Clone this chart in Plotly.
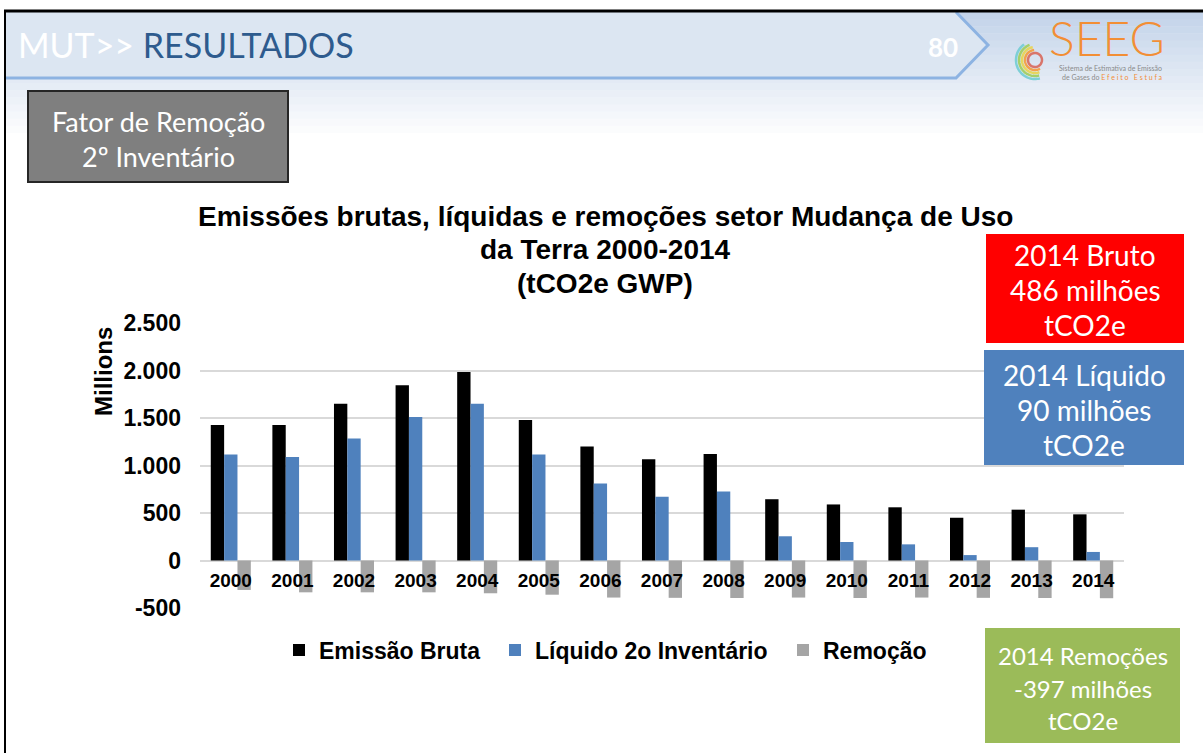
import numpy as np
import plotly.graph_objects as go

# ---------------- data ----------------
years = ['2000', '2001', '2002', '2003', '2004', '2005', '2006', '2007',
         '2008', '2009', '2010', '2011', '2012', '2013', '2014']
emissao_bruta = [1425, 1425, 1650, 1845, 1985, 1480, 1200, 1065, 1120, 645, 590, 560, 450, 535, 486]
liquido_2o_inventario = [1115, 1090, 1285, 1510, 1650, 1115, 810, 670, 725, 255, 195, 170, 57, 140, 90]
remocao = [-310, -335, -335, -335, -345, -360, -390, -393, -395, -390, -395, -390, -393, -395, -397]
series_names = ['Emissão Bruta', 'Líquido 2o Inventário', 'Remoção']
y_tick_values = [-500, 0, 500, 1000, 1500, 2000, 2500]
y_tick_labels = ['-500', '0', '500', '1.000', '1.500', '2.000', '2.500']
y_range = [-500, 2500]

# ---------------- geometry helpers ----------------
W, H = 1203, 753


def px(x):
    return x / W


def py(y):
    return 1 - y / H


XDOM = [px(200), px(1124)]
YDOM = [py(608), py(323)]
zero_pos = YDOM[0] + (0 - y_range[0]) / (y_range[1] - y_range[0]) * (YDOM[1] - YDOM[0])

ARIAL = 'Liberation Sans, Arial, sans-serif'
CAL = 'Lato, Open Sans, sans-serif'

fig = go.Figure()
colors = ['#000000', '#4f81bd', '#a5a5a5']
legend_ids = ['legend', 'legend2', 'legend3']
for name, vals, c, lg in zip(series_names, [emissao_bruta, liquido_2o_inventario, remocao], colors, legend_ids):
    fig.add_trace(go.Bar(x=years, y=vals, name=name, legend=lg,
                         marker=dict(color=c, line=dict(width=0))))

shapes = []
annotations = []

# background gradient (top of slide)
top_c = np.array([196, 212, 234])
steps = 18
y0, y1 = 12, 140
for i in range(steps):
    t = i / (steps - 1)
    c = top_c + (np.array([255, 255, 255]) - top_c) * t
    ya = y0 + (y1 - y0) * i / steps
    yb = y0 + (y1 - y0) * (i + 1) / steps + 0.5
    shapes.append(dict(type='rect', xref='paper', yref='paper', x0=px(5), x1=1, y0=py(yb), y1=py(ya),
                       fillcolor='rgb(%d,%d,%d)' % tuple(c.astype(int)), line=dict(width=0), layer='below'))

# header band with chevron
hdr = 'M {},{} L {},{} L {},{} L {},{} L {},{} Z'.format(
    px(5), py(12), px(956), py(12), px(988), py(45), px(956), py(78), px(5), py(78))
shapes.append(dict(type='path', xref='paper', yref='paper', path=hdr, fillcolor='#dce6f2',
                   line=dict(width=0), layer='below'))
outline = 'M {},{} L {},{} L {},{} L {},{}'.format(
    px(956), py(12), px(988), py(45), px(956), py(78), px(5), py(78))
shapes.append(dict(type='path', xref='paper', yref='paper', path=outline,
                   line=dict(color='#8db3e2', width=3), layer='below'))

# slide frame
shapes.append(dict(type='line', xref='paper', yref='paper', x0=px(4), x1=1, y0=py(11), y1=py(11),
                    line=dict(color='black', width=3), layer='below'))
shapes.append(dict(type='line', xref='paper', yref='paper', x0=px(5), x1=px(5), y0=py(10), y1=0,
                    line=dict(color='black', width=2), layer='below'))

# SEEG logo arcs
cx, cy = 1035, 60
arcs = [(7, '#d9756b', 0, 360), (10, '#f3a24c', 95, 300), (13, '#e6d65e', 100, 290),
        (16, '#a6cf6a', 110, 285), (19, '#7dcfd6', 125, 285)]
for r, col, a0, a1 in arcs:
    ang = np.radians(np.linspace(a0, a1, 40))
    xs = cx + r * np.cos(ang)
    ys = cy - r * np.sin(ang)
    p = 'M ' + ' L '.join('{},{}'.format(px(a), py(b)) for a, b in zip(xs, ys))
    shapes.append(dict(type='path', xref='paper', yref='paper', path=p,
                       line=dict(color=col, width=2.5), layer='below'))

# gray box
shapes.append(dict(type='rect', xref='paper', yref='paper', x0=px(28), x1=px(288), y0=py(182), y1=py(91),
                   fillcolor='#7f7f7f', line=dict(color='#262626', width=2), layer='above'))
# right info boxes
boxes = [
    (986, 1184, 234, 343, '#ff0000', ['2014 Bruto', '486 milhões', 'tCO2e'], [255, 290, 325], 28),
    (984, 1184, 350, 465, '#4f81bd', ['2014 Líquido', '90 milhões', 'tCO2e'], [375, 410, 445], 28),
    (985, 1180, 628, 743, '#9bbb59', ['2014 Remoções', '-397 milhões', 'tCO2e'], [655, 688, 720], 24),
]
for x0, x1, ya, yb, col, lines, ys, fs in boxes:
    shapes.append(dict(type='rect', xref='paper', yref='paper', x0=px(x0), x1=px(x1), y0=py(yb), y1=py(ya),
                       fillcolor=col, line=dict(width=0), layer='above'))
    for t, yy in zip(lines, ys):
        annotations.append(dict(text=t, x=px((x0 + x1) / 2), y=py(yy), xref='paper', yref='paper',
                                showarrow=False, xanchor='center', yanchor='middle',
                                font=dict(family=CAL, size=fs, color='white')))

# gray box text
for t, yy in zip(['Fator de Remoção', '2º Inventário'], [122, 156]):
    annotations.append(dict(text=t, x=px(158), y=py(yy), xref='paper', yref='paper', showarrow=False,
                            xanchor='center', yanchor='middle', font=dict(family=CAL, size=27, color='white')))

# header title
annotations.append(dict(text='<span style="color:white">MUT&gt;&gt; </span>RESULTADOS', x=px(16), y=py(45),
                        xref='paper', yref='paper', showarrow=False, xanchor='left', yanchor='middle',
                        font=dict(family=CAL, size=34, color='#2e5b8e')))
annotations.append(dict(text='<b>80</b>', x=px(943), y=py(47), xref='paper', yref='paper', showarrow=False,
                        xanchor='center', yanchor='middle', font=dict(family=CAL, size=26, color='white')))
# logo text
annotations.append(dict(text='SEEG', x=px(1107), y=py(38), xref='paper', yref='paper', showarrow=False,
                        xanchor='center', yanchor='middle',
                        font=dict(family=CAL, size=48, color='#f28e35', weight=300)))
annotations.append(dict(text='Sistema de Estimativa de Emissão<br>de Gases do '
                             '<span style="color:#f28e35">E f e i t o   E s t u f a</span>',
                        x=px(1165), y=py(72), xref='paper', yref='paper', align='right',
                        showarrow=False, xanchor='right', yanchor='middle',
                        font=dict(family=CAL, size=7, color='#8a8a8a')))

# chart title
for t, yy in zip(['Emissões brutas, líquidas e remoções setor Mudança de Uso',
                  'da Terra 2000-2014', '(tCO2e GWP)'], [217, 250, 283]):
    annotations.append(dict(text=t, x=px(605), y=py(yy), xref='paper', yref='paper', showarrow=False,
                            xanchor='center', yanchor='middle',
                            font=dict(family=ARIAL, size=28, color='black', weight='bold')))
# y axis title
annotations.append(dict(text='Millions', x=px(103), y=py(372), xref='paper', yref='paper', showarrow=False,
                        textangle=-90, xanchor='center', yanchor='middle',
                        font=dict(family=ARIAL, size=24, color='black', weight='bold')))

legend_style = dict(orientation='h', xanchor='left', yanchor='middle', y=py(650),
                    font=dict(family=ARIAL, size=23, color='black', weight='bold'),
                    bgcolor='rgba(0,0,0,0)', itemclick=False)

fig.update_layout(
    width=W, height=H, autosize=False,
    margin=dict(l=0, r=0, t=0, b=0, pad=0, autoexpand=False),
    paper_bgcolor='white', plot_bgcolor='rgba(0,0,0,0)',
    barmode='group', bargap=0.35, bargroupgap=0,
    showlegend=True,
    legend=dict(x=px(279), **legend_style),
    legend2=dict(x=px(495), **legend_style),
    legend3=dict(x=px(783), **legend_style),
    shapes=shapes, annotations=annotations,
    xaxis=dict(domain=XDOM, type='category', anchor='free', position=zero_pos, automargin=False,
               showgrid=False, showline=False, ticks='', zeroline=False,
               tickfont=dict(family=ARIAL, size=19, color='black', weight='bold'),
               ticklabelstandoff=6),
    yaxis=dict(domain=YDOM, range=y_range, tickvals=y_tick_values, ticktext=y_tick_labels, automargin=False,
               showgrid=True, gridcolor='#d9d9d9', gridwidth=2,
               zeroline=True, zerolinecolor='#d9d9d9', zerolinewidth=2,
               showline=False, ticks='',
               tickfont=dict(family=ARIAL, size=23, color='black', weight='bold'),
               ticklabelstandoff=18),
    hovermode=False,
)

fig.write_html('out.html', config={'staticPlot': True},
               post_script="document.body.style.margin='0';document.body.style.overflow='hidden';")
